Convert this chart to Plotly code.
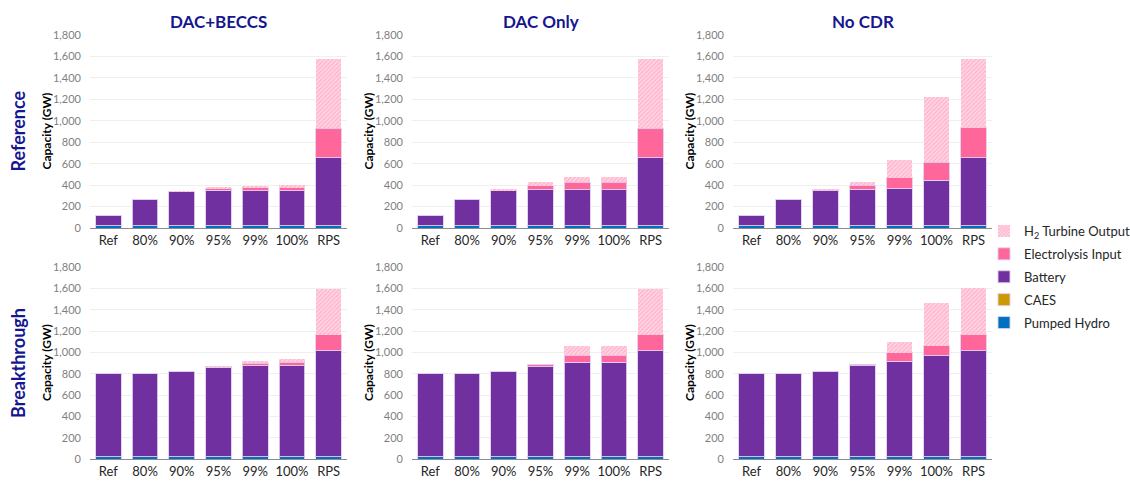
import plotly.graph_objects as go

categories = ["Ref", "80%", "90%", "95%", "99%", "100%", "RPS"]
col_titles = ["DAC+BECCS", "DAC Only", "No CDR"]
row_titles = ["Reference", "Breakthrough"]

pumped_hydro = [20, 20, 20, 20, 20, 20, 20]
caes = [1, 1, 1, 1, 1, 1, 1]

# Reference row
battery_ref_beccs = [91, 241, 317, 331, 325, 325, 633]
elec_ref_beccs = [0, 0, 4, 12, 31, 31, 277]
h2_ref_beccs = [0, 0, 2, 16, 15, 22, 645]

battery_ref_dac = [91, 241, 325, 337, 337, 337, 633]
elec_ref_dac = [0, 0, 8, 37, 69, 69, 277]
h2_ref_dac = [0, 0, 1, 35, 46, 46, 645]

battery_ref_nocdr = [91, 241, 327, 340, 346, 424, 636]
elec_ref_nocdr = [0, 0, 7, 38, 103, 168, 277]
h2_ref_nocdr = [0, 0, 1, 31, 165, 608, 645]

# Breakthrough row
battery_bt_beccs = [776, 776, 799, 840, 855, 855, 995]
elec_bt_beccs = [0, 0, 0, 6, 22, 29, 147]
h2_bt_beccs = [0, 0, 0, 2, 22, 28, 435]

battery_bt_dac = [776, 776, 799, 846, 884, 884, 995]
elec_bt_dac = [0, 0, 0, 16, 68, 68, 147]
h2_bt_dac = [0, 0, 0, 0, 82, 82, 435]

battery_bt_nocdr = [778, 778, 799, 853, 896, 946, 995]
elec_bt_nocdr = [0, 0, 0, 15, 78, 94, 150]
h2_bt_nocdr = [0, 0, 0, 0, 100, 399, 433]

panels = [
    (battery_ref_beccs, elec_ref_beccs, h2_ref_beccs),
    (battery_ref_dac, elec_ref_dac, h2_ref_dac),
    (battery_ref_nocdr, elec_ref_nocdr, h2_ref_nocdr),
    (battery_bt_beccs, elec_bt_beccs, h2_bt_beccs),
    (battery_bt_dac, elec_bt_dac, h2_bt_dac),
    (battery_bt_nocdr, elec_bt_nocdr, h2_bt_nocdr),
]

W, H = 1130, 485
FONT = "Lato, 'Open Sans', sans-serif"
NAVY = "#16168e"

# pixel layout of the plot areas
x_px = [(90, 347), (412, 669), (733, 992)]
y_px = [(35, 228), (267, 459)]

fig = go.Figure()
edge = dict(color="rgba(225,205,240,0.9)", width=1)

for i, (battery, elec, h2) in enumerate(panels):
    ax = "" if i == 0 else str(i + 1)
    first = i == 0
    common = dict(x=categories, xaxis="x" + ax, yaxis="y" + ax, showlegend=first)
    fig.add_trace(go.Bar(y=pumped_hydro, name="Pumped Hydro", legendgroup="ph", legendrank=5,
                         marker=dict(color="#0070c0", line=edge), **common))
    fig.add_trace(go.Bar(y=caes, name="CAES", legendgroup="caes", legendrank=4,
                         marker=dict(color="#cc9900", line=edge), **common))
    fig.add_trace(go.Bar(y=battery, name="Battery", legendgroup="bat", legendrank=3,
                         marker=dict(color="#7030a0", line=edge), **common))
    fig.add_trace(go.Bar(y=elec, name="Electrolysis Input", legendgroup="elec", legendrank=2,
                         marker=dict(color="#ff6699", line=edge), **common))
    fig.add_trace(go.Bar(y=h2, name="H<sub>2</sub> Turbine Output", legendgroup="h2", legendrank=1,
                         marker=dict(color="#ffd8e6", line=dict(width=0),
                                     pattern=dict(shape="/", fgcolor="#ff8fb4",
                                                  bgcolor="#ffd8e6", size=3, solidity=0.5)),
                         **common))

layout_axes = {}
annotations = []
for i in range(6):
    r, c = divmod(i, 3)
    ax = "" if i == 0 else str(i + 1)
    x0, x1 = x_px[c]
    y0, y1 = y_px[r]
    layout_axes["xaxis" + ax] = dict(
        domain=[x0 / W, x1 / W], anchor="y" + ax,
        showline=True, linecolor="#8c8c8c", linewidth=1,
        showgrid=False, ticks="", automargin=False,
        tickfont=dict(size=13, color="#262626"),
    )
    layout_axes["yaxis" + ax] = dict(
        domain=[1 - y1 / H, 1 - y0 / H], anchor="x" + ax,
        range=[0, 1800], dtick=200, tickformat=",",
        showgrid=True, gridcolor="#efefef", gridwidth=1,
        zeroline=False, showline=False, ticks="", automargin=False,
        ticklabelstandoff=8,
        tickfont=dict(size=11, color="#7f7f7f"),
    )
    annotations.append(dict(
        text="<b>Capacity (GW)</b>", textangle=-90,
        x=(x0 - 44) / W, y=1 - (y0 + y1) / 2 / H, xref="paper", yref="paper",
        xanchor="center", yanchor="middle",
        showarrow=False, font=dict(size=12, color="black"),
    ))

for c, t in enumerate(col_titles):
    x0, x1 = x_px[c]
    annotations.append(dict(
        text="<b>%s</b>" % t, x=(x0 + x1) / 2 / W, y=1 - 22 / H,
        xref="paper", yref="paper", xanchor="center", yanchor="middle",
        showarrow=False, font=dict(size=17, color=NAVY),
    ))

for r, t in enumerate(row_titles):
    y0, y1 = y_px[r]
    annotations.append(dict(
        text="<b>%s</b>" % t, textangle=-90, x=18 / W, y=1 - (y0 + y1) / 2 / H,
        xref="paper", yref="paper", xanchor="center", yanchor="middle",
        showarrow=False, font=dict(size=18, color=NAVY),
    ))

fig.update_layout(
    width=W, height=H,
    margin=dict(l=0, r=0, t=0, b=0, autoexpand=False),
    paper_bgcolor="white", plot_bgcolor="white",
    font=dict(family=FONT),
    barmode="stack", bargap=0.3,
    annotations=annotations,
    legend=dict(
        x=984 / W, y=1 - 216 / H, xanchor="left", yanchor="top",
        traceorder="grouped", tracegroupgap=3,
        font=dict(size=13, color="#262626"),
        bgcolor="rgba(0,0,0,0)",
    ),
    **layout_axes,
)

# the page's default body margin would shift the figure by 8px
fig.write_html("out.html", config={"displayModeBar": False},
               post_script="document.body.style.margin='0';")
